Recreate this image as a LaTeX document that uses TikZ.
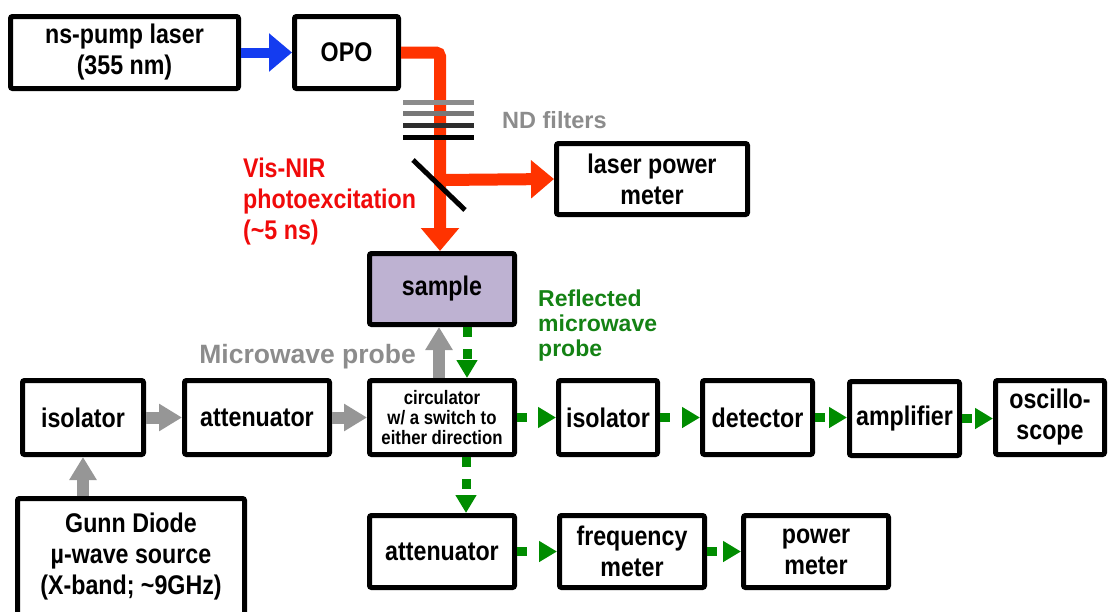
\documentclass[tikz,border=0pt]{standalone}
\usepackage{fontspec}
\setmainfont{Liberation Sans}[FakeStretch=0.86]
\newfontfamily\widefont{Liberation Sans}
\usetikzlibrary{arrows.meta}
\definecolor{beamred}{RGB}{255,51,0}
\definecolor{txtred}{RGB}{240,10,10}
\definecolor{pumpblue}{RGB}{20,60,240}
\definecolor{mwgray}{RGB}{150,150,150}
\definecolor{txtgray}{RGB}{140,140,140}
\definecolor{mwgreen}{RGB}{0,140,0}
\definecolor{txtgreen}{RGB}{20,130,20}
\definecolor{samplefill}{RGB}{190,178,210}
\begin{document}
\begin{tikzpicture}[x=1pt,y=-1pt,
  box/.style={draw=black, line width=5pt, rounded corners=2pt, fill=white, align=center,
    font=\fontsize{27}{31}\selectfont\bfseries, inner sep=0pt},
  grayarrow/.style={draw=mwgray, line width=12pt, -{Triangle[length=23pt,width=26pt]}},
  greenarrow/.style={draw=mwgreen, line width=9pt, dash pattern=on 10pt off 12pt,
    -{Triangle[length=18pt,width=20pt]}},
  redbeam/.style={draw=beamred, line width=12pt, -{Triangle[length=23pt,width=37pt]}},
  bluebeam/.style={draw=pumpblue, line width=10pt, -{Triangle[length=23pt,width=37pt]}},
  filterbar/.style={line width=5pt},
  label/.style={inner sep=0pt, font=\bfseries}
]
\useasboundingbox (0,0) rectangle (1108,611);

% boxes
\node[box, minimum width=228pt, minimum height=72pt] (pump) at (124.5,52.5) {ns-pump laser\\(355 nm)};
\node[box, minimum width=104pt, minimum height=72pt] (opo) at (346.5,52.5) {OPO};
\node[box, minimum width=191pt, minimum height=71pt] (lpm) at (652,179) {laser power\\meter};
\node[box, fill=samplefill, minimum width=145pt, minimum height=71pt] (sample) at (442,289) {sample};

% red beam
\coordinate (split) at (440,180);
\draw[redbeam, rounded corners=4pt] (opo.east) -| ([xshift=-2pt]sample.north);
\draw[redbeam] (split) -- (lpm.west);

% ND filters
\draw[filterbar, draw={rgb,255:red,140;green,140;blue,140}] (403,102) -- (474,102);
\draw[filterbar, draw={rgb,255:red,120;green,120;blue,120}] (403,113) -- (474,113);
\draw[filterbar, draw={rgb,255:red,45;green,45;blue,45}] (403,125) -- (474,125);
\draw[filterbar, draw=black] (403,137) -- (474,137);
\draw[line width=5pt] (413,160) -- (465,210);

\node[label, anchor=base west, text=txtgray, font=\widefont\fontsize{23.5}{26}\selectfont\bfseries] (ndlab) at (502,128) {ND filters};

\node[label, anchor=west, align=left, text=txtred, font=\fontsize{27}{31}\selectfont\bfseries] (vislab) at (243,202) {Vis-NIR\\photoexcitation\\(\textasciitilde{}5 ns)};

\node[label, anchor=west, align=left, text=txtgreen, font=\widefont\fontsize{23}{25}\selectfont\bfseries] (reflab) at (538,326) {Reflected\\microwave\\probe};

\node[label, anchor=base east, text=txtgray, font=\widefont\fontsize{26.5}{30}\selectfont\bfseries] (mwlab) at (416,363) {Microwave probe};

% middle row
\node[box, minimum width=121pt, minimum height=74pt] (iso1) at (83,417.5) {isolator};
\node[box, minimum width=145pt, minimum height=74pt] (att1) at (257,417.5) {attenuator};
\node[box, minimum width=145pt, minimum height=74pt, font=\fontsize{19.5}{20}\selectfont\bfseries] (circ) at (442,417.5) {circulator\\w/ a switch to\\either direction};
\node[box, minimum width=99pt, minimum height=74pt] (iso2) at (608,417.5) {isolator};
\node[box, minimum width=110pt, minimum height=74pt] (det) at (757.5,417.5) {detector};
\node[box, minimum width=110pt, minimum height=74pt] (amp) at (904.5,418.5) {amplifier};
\node[box, minimum width=109pt, minimum height=74pt] (osc) at (1050,417.5) {oscillo-\\scope};

% source
\node[box, minimum width=227pt, minimum height=117pt] (gunn) at (131,557) {Gunn Diode\\µ-wave source\\(X-band; \textasciitilde{}9GHz)};

% bottom row
\node[box, minimum width=145pt, minimum height=72pt] (att2) at (442,551.5) {attenuator};
\node[box, minimum width=145pt, minimum height=72pt] (freq) at (632,551.5) {frequency\\meter};
\node[box, minimum width=145pt, minimum height=72pt] (pm) at (816,551.5) {power\\meter};

% pump arrow
\draw[bluebeam] (pump.east) -- (opo.west);

% gray microwave arrows
\draw[grayarrow] (iso1.south |- gunn.north) -- (iso1.south);
\draw[grayarrow] (iso1.east) -- (att1.west);
\draw[grayarrow] (att1.east) -- (circ.west);
\draw[grayarrow] ([xshift=-3pt]circ.north) -- ([xshift=-3pt]sample.south);

% green reflected arrows
\draw[greenarrow] ([xshift=25pt]sample.south) -- ([xshift=25pt]circ.north);
\draw[greenarrow] ([xshift=24pt]circ.south) -- ([xshift=24pt]att2.north);
\draw[greenarrow] (circ.east) -- (iso2.west);
\draw[greenarrow] (iso2.east) -- (det.west);
\draw[greenarrow] (det.east) -- (det.east -| amp.west);
\draw[greenarrow] (amp.east) -- (osc.west |- amp.east);
\draw[greenarrow] (att2.east) -- (freq.west);
\draw[greenarrow] (freq.east) -- (pm.west);
\end{tikzpicture}
\end{document}
